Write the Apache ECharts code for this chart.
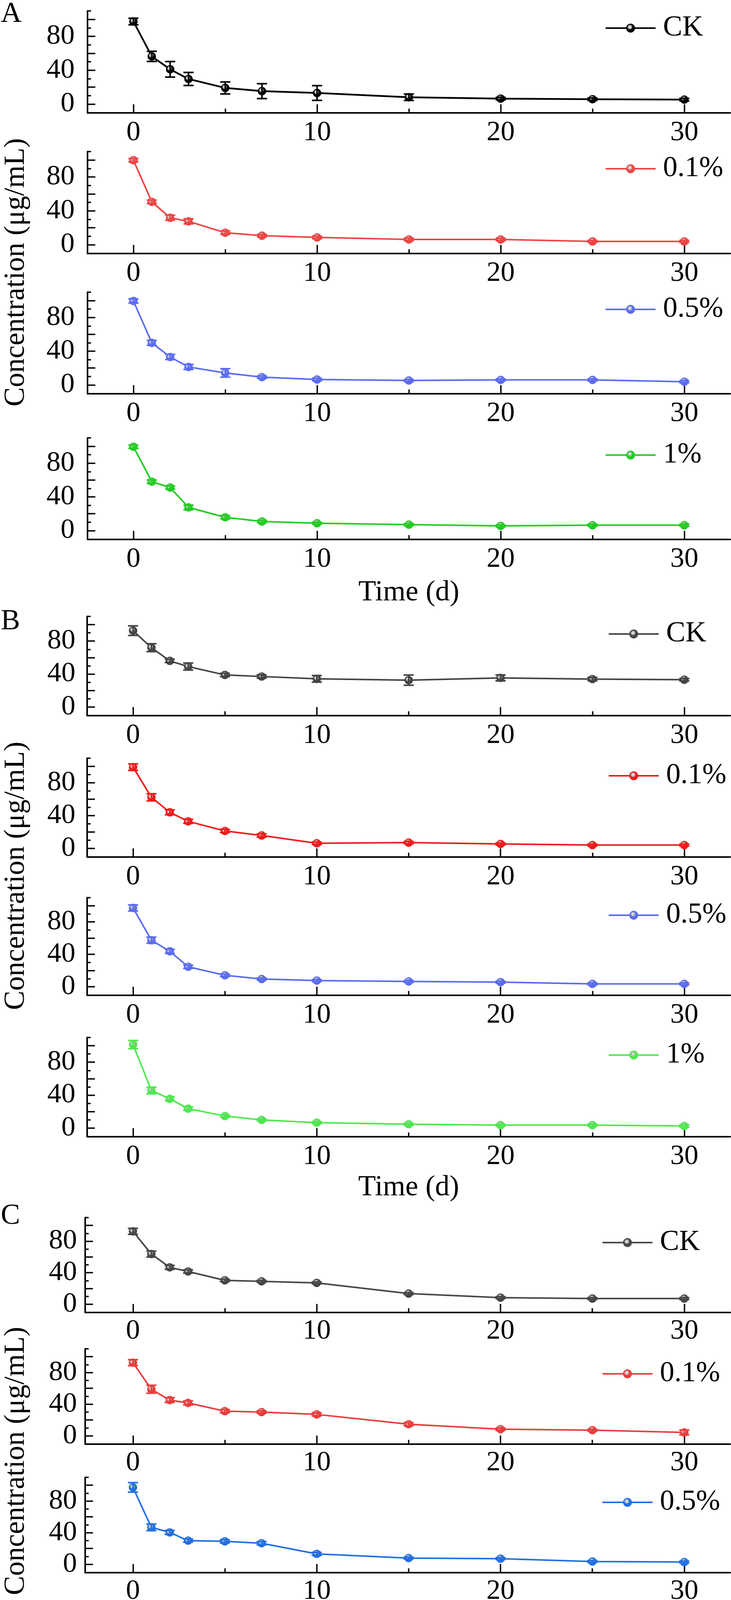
<!DOCTYPE html>
<html><head><meta charset="utf-8">
<script src="https://cdn.jsdelivr.net/npm/echarts@6/dist/echarts.min.js"></script>
<style>html,body{margin:0;padding:0;background:#fff}#c{width:1871px;height:4539px}</style>
</head><body><div id="c"></div>
<script>
// ---------- data ----------
const days = [0, 1, 2, 3, 5, 7, 10, 15, 20, 25, 30];
const seriesNames = ['CK', '0.1%', '0.5%', '1%'];
const panelLabels = ['A', 'B', 'C'];
const xTickValues = [0, 10, 20, 30];
const xMinorTickValues = [5, 15, 25];
const yTickValues = [0, 20, 40, 60, 80, 100];
const yMinorTickValues = [10, 30, 50, 70, 90, 110];
const yLabelValues = [0, 40, 80];
const yTitle = 'Concentration (μg/mL)';
const xTitle = 'Time (d)';

const A_CK = [97.5, 56.3, 41.0, 29.6, 19.0, 15.2, 13.0, 8.0, 6.4, 5.7, 5.2];
const A_CK_err = [3.9, 6.0, 9.2, 7.7, 7.1, 8.8, 8.7, 3.8, 1.5, 1.5, 1.5];
const A_01 = [99.8, 50.6, 31.8, 27.5, 14.1, 10.6, 8.5, 6.1, 6.1, 3.8, 3.8];
const A_01_err = [2.0, 2.0, 3.0, 3.0, 2.0, 1.5, 1.5, 1.5, 1.5, 1.2, 1.2];
const A_05 = [99.6, 49.9, 33.1, 21.3, 14.2, 9.2, 6.4, 5.2, 5.9, 5.9, 3.8];
const A_05_err = [2.5, 3.0, 3.0, 3.0, 5.0, 1.5, 1.5, 1.2, 1.2, 1.2, 1.2];
const A_1 = [99.5, 58.1, 51.1, 27.5, 15.8, 10.8, 8.7, 7.1, 5.6, 6.4, 6.4];
const A_1_err = [2.0, 2.0, 1.8, 2.7, 2.0, 1.5, 1.2, 1.2, 1.2, 1.2, 1.2];

const B_CK = [92.7, 72.0, 56.0, 49.1, 38.9, 37.0, 34.2, 32.6, 35.3, 33.9, 33.1];
const B_CK_err = [5.8, 4.8, 2.0, 4.3, 2.0, 2.0, 4.0, 6.2, 3.6, 2.0, 1.5];
const B_01 = [99.1, 62.3, 44.0, 33.0, 21.3, 15.8, 6.3, 7.1, 5.5, 4.1, 4.1];
const B_01_err = [4.0, 4.4, 3.0, 2.5, 2.0, 2.0, 1.5, 1.5, 1.2, 1.2, 1.2];
const B_05 = [97.3, 57.5, 43.8, 24.7, 14.2, 9.6, 7.7, 6.6, 5.8, 3.6, 3.6];
const B_05_err = [3.8, 3.8, 2.5, 2.0, 1.5, 1.2, 1.2, 1.2, 1.2, 1.2, 1.2];
const B_1 = [101.4, 45.6, 35.5, 23.6, 14.6, 9.9, 6.6, 4.7, 3.6, 3.6, 2.5];
const B_1_err = [5.0, 4.0, 2.5, 2.0, 1.5, 1.2, 1.2, 1.2, 1.2, 1.2, 1.5];

const C_CK = [92.5, 63.7, 46.8, 41.6, 30.3, 29.1, 27.1, 13.5, 8.4, 7.2, 7.2];
const C_CK_err = [3.8, 3.8, 2.5, 2.0, 1.5, 1.2, 1.2, 1.2, 1.2, 1.2, 1.2];
const C_01 = [92.5, 58.9, 45.2, 41.6, 31.2, 30.0, 27.1, 14.7, 8.4, 7.2, 4.3];
const C_01_err = [3.8, 5.0, 3.0, 2.5, 2.0, 1.5, 2.0, 2.0, 1.5, 1.2, 3.0];
const C_05 = [97.3, 46.8, 40.4, 30.0, 29.1, 26.7, 13.2, 7.9, 7.2, 3.6, 2.9];
const C_05_err = [6.0, 4.2, 2.5, 2.0, 2.0, 2.0, 2.0, 1.2, 1.2, 1.2, 1.2];
const C_1 = [98.0, 39.6, 30.0, 20.9, 15.6, 14.9, 12.5, 7.2, 7.2, 2.9, 2.9];
const C_1_err = [6.0, 3.0, 2.5, 2.0, 2.0, 1.2, 1.2, 1.2, 1.2, 1.2, 1.2];

// ---------- styling / layout ----------
const F = 'Liberation Serif';
const panelValues = [[A_CK, A_01, A_05, A_1], [B_CK, B_01, B_05, B_1], [C_CK, C_01, C_05, C_1]];
const panelErrors = [[A_CK_err, A_01_err, A_05_err, A_1_err], [B_CK_err, B_01_err, B_05_err, B_1_err], [C_CK_err, C_01_err, C_05_err, C_1_err]];
const panelColors = [
  ['#000000', '#f04444', '#5b6cf3', '#22cc22'],
  ['#444444', '#ee1c1c', '#5b6cf0', '#4ee84e'],
  ['#474747', '#eb3c3c', '#2170e0', '#3cab6c']
];
const layout = [
  {left: 224, xmin: -2.5, tops: [28, 388, 748, 1121], bottoms: [289, 649, 1008, 1381], legLeft: 1548, legOff: 44, xMargin: 15, yMargin: 33, nameGap: 100, letterY: 37, titleY: 697},
  {left: 223, xmin: -2.5, tops: [1578, 1941, 2298, 2656], bottoms: [1832, 2194, 2548, 2910], legLeft: 1556, legOff: 45, xMargin: 15, yMargin: 30, nameGap: 94, letterY: 1592, titleY: 2242},
  {left: 218, xmin: -2.6, tops: [3117, 3453, 3782, 4112], bottoms: [3360, 3697, 4026, 4355], legLeft: 1540, legOff: 64, xMargin: 12, yMargin: 21, nameGap: 104, letterY: 3114, titleY: 3740}
];
const XMAX = 32.5;

function markerFill(c) {
  return {type: 'radial', x: 0.42, y: 0.38, r: 0.62, colorStops: [
    {offset: 0, color: '#f2f2f2'}, {offset: 0.28, color: '#bdbdbd'}, {offset: 0.5, color: c}, {offset: 1, color: c}]};
}

const grids = [], xAxes = [], yAxes = [], series = [], legends = [], graphics = [];
const axisBlack = {color: '#000', width: 4};
const tickBlack = {color: '#000', width: 3.5};

layout.forEach((L, p) => {
  graphics.push({type: 'text', x: 2, y: L.letterY, style: {text: panelLabels[p], fontSize: 74, fontFamily: F, fill: '#000', align: 'left', verticalAlign: 'middle'}});
  graphics.push({type: 'text', x: 42, y: L.titleY, rotation: Math.PI / 2, style: {text: yTitle, fontSize: 74, fontFamily: F, fill: '#000', align: 'center', verticalAlign: 'middle'}});
  for (let s = 0; s < 4; s++) {
    const gi = grids.length;
    const color = panelColors[p][s];
    const key = panelLabels[p] + '|' + seriesNames[s];
    grids.push({left: L.left, width: 1869 - L.left, top: L.tops[s], height: L.bottoms[s] - L.tops[s], containLabel: false});
    const last = s === 3;
    xAxes.push({gridIndex: gi, type: 'value', min: L.xmin, max: XMAX, position: 'bottom',
      axisLine: {show: true, onZero: false, lineStyle: axisBlack},
      axisTick: {show: true, inside: true, length: 22, lineStyle: tickBlack, customValues: xTickValues},
      axisLabel: {show: true, customValues: xTickValues, fontSize: 72, fontFamily: F, color: '#000', margin: L.xMargin},
      splitLine: {show: false},
      name: last ? xTitle : '', nameLocation: 'middle', nameGap: L.nameGap,
      nameTextStyle: {fontSize: 74, fontFamily: F, color: '#000'}});
    xAxes.push({gridIndex: gi, type: 'value', min: L.xmin, max: XMAX, position: 'bottom',
      axisLine: {show: false, onZero: false},
      axisTick: {show: true, inside: true, length: 11, lineStyle: tickBlack, customValues: xMinorTickValues},
      axisLabel: {show: false}, splitLine: {show: false}});
    yAxes.push({gridIndex: gi, type: 'value', min: -10.5, max: 110, position: 'left',
      axisLine: {show: true, onZero: false, lineStyle: axisBlack},
      axisTick: {show: true, inside: true, length: 20, lineStyle: tickBlack, customValues: yTickValues},
      axisLabel: {show: true, customValues: yLabelValues, fontSize: 72, fontFamily: F, color: '#000', margin: L.yMargin},
      splitLine: {show: false}});
    yAxes.push({gridIndex: gi, type: 'value', min: -10.5, max: 110, position: 'left',
      axisLine: {show: false, onZero: false},
      axisTick: {show: true, inside: true, length: 9, lineStyle: tickBlack, customValues: yMinorTickValues},
      axisLabel: {show: false}, splitLine: {show: false}});
    const vals = panelValues[p][s], errs = panelErrors[p][s];
    series.push({type: 'line', name: key, xAxisIndex: 2 * gi, yAxisIndex: 2 * gi,
      data: days.map((d, i) => [d, vals[i]]),
      symbol: 'circle', symbolSize: 20, showSymbol: true,
      lineStyle: {color: color, width: p === 0 && s === 0 ? 4.5 : 4},
      itemStyle: {color: markerFill(color), borderColor: color, borderWidth: 1.5},
      z: 3, animation: false, silent: true});
    series.push({type: 'custom', name: key + ' err', xAxisIndex: 2 * gi, yAxisIndex: 2 * gi,
      data: days.map((d, i) => [d, vals[i], errs[i]]),
      encode: {x: 0, y: 1},
      renderItem: function (params, api) {
        const x = api.value(0), y = api.value(1), e = api.value(2);
        const t = api.coord([x, y + e]), b = api.coord([x, y - e]);
        const hw = 13;
        const st = {stroke: color, lineWidth: 4};
        return {type: 'group', children: [
          {type: 'line', shape: {x1: t[0], y1: t[1], x2: b[0], y2: b[1]}, style: st},
          {type: 'line', shape: {x1: t[0] - hw, y1: t[1], x2: t[0] + hw, y2: t[1]}, style: st},
          {type: 'line', shape: {x1: b[0] - hw, y1: b[1], x2: b[0] + hw, y2: b[1]}, style: st}
        ]};
      },
      z: 4, animation: false, silent: true});
    legends.push({data: [key], left: L.legLeft, top: L.tops[s] + L.legOff - 37, orient: 'horizontal',
      itemWidth: 128, itemHeight: 26, selectedMode: false, padding: 0,
      formatter: n => n.split('|')[1],
      lineStyle: {width: 4},
      textStyle: {fontSize: 74, fontFamily: F, color: '#000', padding: [0, 0, 0, 14]}});
  }
});

const chart = echarts.init(document.getElementById('c'), null, {renderer: 'canvas'});
chart.setOption({
  backgroundColor: '#ffffff',
  animation: false,
  grid: grids, xAxis: xAxes, yAxis: yAxes, series: series, legend: legends, graphic: graphics
});
</script></body></html>
